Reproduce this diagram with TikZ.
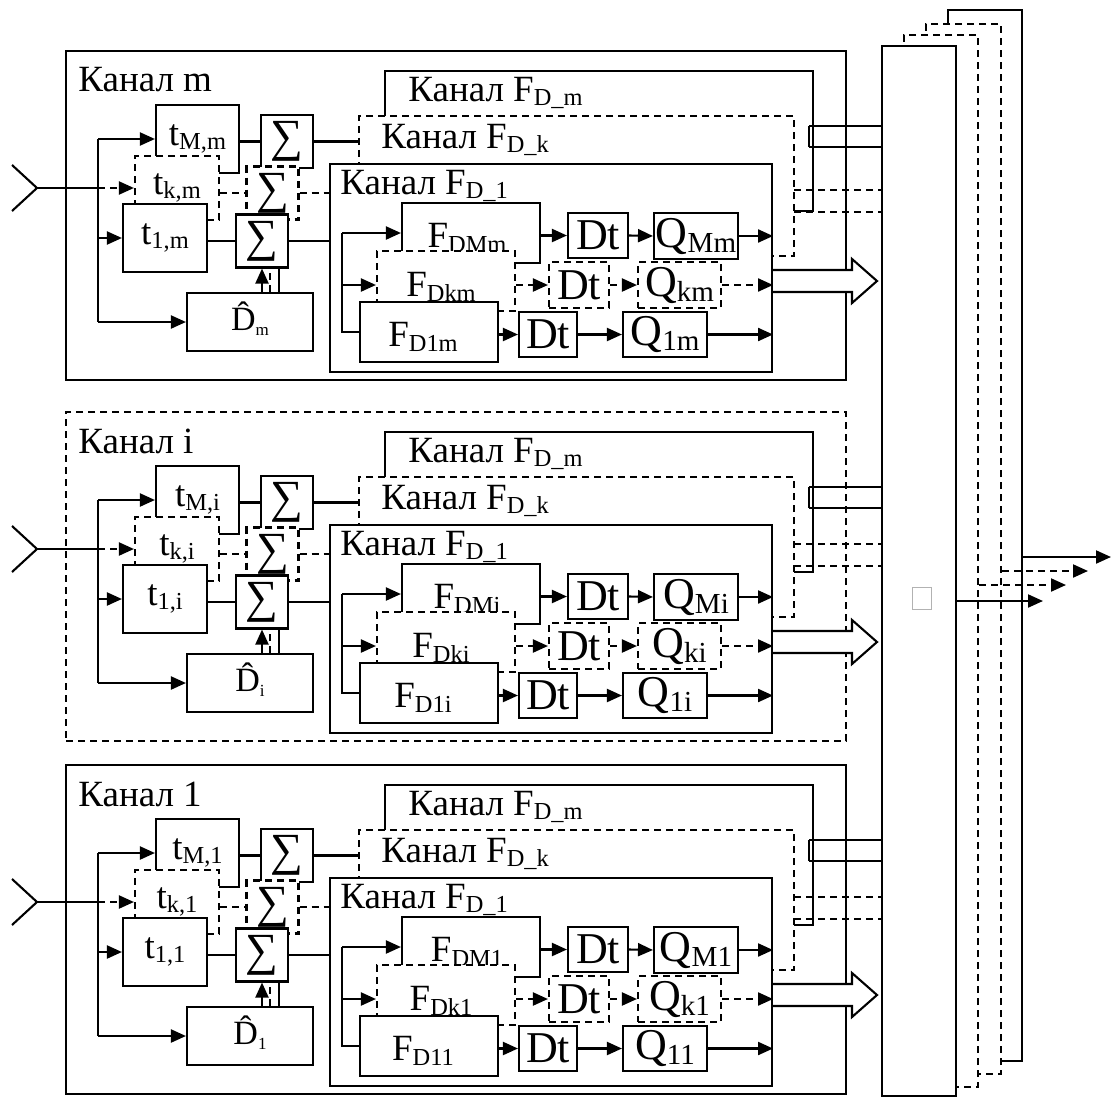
\documentclass[tikz,border=0pt]{standalone}
\usepackage{amsmath}
\usepackage{fontspec}
\setmainfont{Liberation Serif}
\usepackage{tikz}
\usetikzlibrary{arrows.meta,calc}
\newcommand{\lo}[1]{\raisebox{-0.12em}{\scalebox{0.66}{#1}}}
\newcommand{\Dhat}[1]{\ooalign{D\cr\hidewidth\raisebox{0.16em}{ˆ}\hidewidth\cr}\raisebox{-0.15em}{\scalebox{0.5}{#1}}}

% one channel: #1 name prefix, #2 y offset, #3 index, #4 frame style, #5 shift of the dashed outputs
\newcommand{\kanal}[5]{%
\begin{scope}[shift={(0,#2)}]
  \node[draw,#4,minimum width=780pt,minimum height=329pt] (#1box) at (456,215.5) {};
  \node[lbl,anchor=west] (#1name) at (74,80) {Канал #3};
  % delays t
  \node[blk,tfont,minimum width=83pt,minimum height=68pt] (#1tM) at (197.5,139) {t\lo{M,#3}};
  \node[blk,tfont,dashed,minimum width=84pt,minimum height=64pt] (#1tK) at (177,188) {t\lo{k,#3}};
  \node[blk,tfont,minimum width=84pt,minimum height=68pt] (#1tA) at (165,238) {t\lo{1,#3}};
  % adders
  \node[sumbox] (#1sM) at (287,141.5) {∑};
  \node[sumbox,dashed] (#1sK) at (272.5,193) {∑};
  \node[sumbox] (#1sA) at (262,241) {∑};
  \node[blk,dfont,minimum width=126pt,minimum height=58pt] (#1d) at (250,322) {\Dhat{#3}};
  % sub-channels F_D
  \node[blk,minimum width=428pt,minimum height=140pt] (#1fm) at (599,141) {};
  \node[lbl,anchor=west] (#1fmname) at (404,93) {Канал F\lo{D\_m}};
  \node[blk,dashed,minimum width=435pt,minimum height=140pt] (#1fk) at (576.5,186) {};
  \node[lbl,anchor=west] (#1fkname) at (377,140) {Канал F\lo{D\_k}};
  \node[blk,minimum width=442pt,minimum height=208pt] (#1fa) at (551,268) {};
  \node[lbl,anchor=west] (#1faname) at (336,186) {Канал F\lo{D\_1}};
  \node[blk,minimum width=138pt,minimum height=60pt,label={[lbl,yshift=-5pt,xshift=-4pt]center:F\lo{DM#3}}] (#1FM) at (471,233) {};
  \node[blk,dashed,minimum width=138pt,minimum height=60pt,label={[lbl,yshift=-6pt,xshift=-5pt]center:F\lo{Dk#3}}] (#1FK) at (446,281) {};
  \node[blk,minimum width=138pt,minimum height=60pt,label={[lbl,yshift=-5pt,xshift=-6pt]center:F\lo{D1#3}}] (#1FA) at (429,332) {};
  \node[blk,qfont,minimum width=60pt,minimum height=45pt] (#1dtM) at (598,235.5) {Dt};
  \node[blk,qfont,minimum width=84pt,minimum height=46pt] (#1qM) at (696,236) {Q\lo{M#3}};
  \node[blk,qfont,dashed,minimum width=60pt,minimum height=46pt] (#1dtK) at (579,285) {Dt};
  \node[blk,qfont,dashed,minimum width=83pt,minimum height=46pt] (#1qK) at (679.5,285) {Q\lo{k#3}};
  \node[blk,qfont,minimum width=58pt,minimum height=45pt] (#1dtA) at (548,334.5) {Dt};
  \node[blk,qfont,minimum width=84pt,minimum height=45pt] (#1qA) at (665,334.5) {Q\lo{1#3}};
  % input and bus
  \coordinate (#1ant) at (37,188);
  \coordinate (#1bus) at (98,139);
  \coordinate (#1fbus) at (342,233);
  \draw (12,165) -- (#1ant) -- (12,211);
  \draw (#1ant) -- (#1bus |- #1tK.west);
  \draw[dashed,->] (#1bus |- #1tK.west) -- (#1tK.west);
  \draw (#1bus |- #1tM.west) -- (#1bus |- #1d.west);
  \draw[->] (#1bus |- #1tM.west) -- (#1tM.west);
  \draw[->] (#1bus |- #1tA.west) -- (#1tA.west);
  \draw[->] (#1bus |- #1d.west) -- (#1d.west);
  \draw (#1tM.east |- #1sM.west) -- (#1sM.west);
  \draw (#1sM.east) -- (#1fk.west |- #1sM.east);
  \draw[dashed] (#1tK.east |- #1sK.west) -- (#1sK.west);
  \draw[dashed] (#1sK.east) -- (#1fa.west |- #1sK.east);
  \draw (#1tA.east |- #1sA.west) -- (#1sA.west);
  \draw (#1sA.east) -- (#1fa.west |- #1sA.east);
  \draw[->] (#1sA.south |- #1d.north) -- (#1sA.south);
  \draw[dashed] ($(#1sA.south |- #1d.north)+(8,0)$) -- ($(#1sA.south)+(8,0)$);
  \draw ($(#1sA.south |- #1d.north)+(17,0)$) -- ($(#1sA.south)+(17,0)$);
  % filter rows
  \draw (#1fbus |- #1FM.west) -- (#1fbus |- #1FA.west) -- (#1FA.west);
  \draw[->] (#1fbus |- #1FM.west) -- (#1FM.west);
  \draw[->] (#1fbus |- #1dtK.west) -- (#1FK.west |- #1dtK.west);
  \draw[->] (#1FM.east |- #1dtM.west) -- (#1dtM.west);
  \draw[->] (#1dtM.east) -- (#1qM.west);
  \draw[->] (#1qM.east) -- (#1fa.east |- #1qM.east);
  \draw[dashed,->] (#1FK.east |- #1dtK.west) -- (#1dtK.west);
  \draw[dashed,->] (#1dtK.east) -- (#1qK.west);
  \draw[dashed,->] (#1qK.east) -- (#1fa.east |- #1qK.east);
  \draw[->] (#1FA.east |- #1dtA.west) -- (#1dtA.west);
  \draw[->] (#1dtA.east) -- (#1qA.west);
  \draw[->] (#1qA.east) -- (#1fa.east |- #1qA.east);
  % outputs to the multiplexer
  \coordinate (#1bu) at (809,126);
  \coordinate (#1bl) at (809,147);
  \coordinate (#1ou) at (794,{190+#5});
  \coordinate (#1ol) at (794,{212+#5});
  \draw (#1bu) -- (#1bu -| mux.west);
  \draw (#1bl) -- (#1bl -| mux.west);
  \draw (#1bu) -- (#1bl);
  \draw[dashed] (#1ou) -- (#1ou -| mux.west);
  \draw[dashed] (#1ol) -- (#1ol -| mux.west);
  \draw[fill=white] (773,270) -- (852,270) -- (852,259) -- (877,281) -- (852,303) -- (852,292) -- (773,292);
\end{scope}}

\begin{document}
\begin{tikzpicture}[x=1pt,y=-1pt,line width=2.1pt,>={Triangle[length=15pt,width=13pt]},
    dashed/.style={dash pattern=on 7pt off 5pt},
    blk/.style={draw,fill=white,inner sep=0pt},
    lbl/.style={font=\fontsize{37}{43}\selectfont},
    tfont/.style={font=\fontsize{37}{43}\selectfont},
    dfont/.style={font=\fontsize{34}{40}\selectfont},
    qfont/.style={font=\fontsize{44}{50}\selectfont},
    sumbox/.style={blk,minimum width=52pt,minimum height=53pt,font=\fontsize{46}{52}\selectfont}]
  \useasboundingbox (0,0) rectangle (1113,1097);
  % multiplexer and its copies
  \node[blk,minimum width=74pt,minimum height=1051pt] (mux3) at (985,535.5) {};
  \node[blk,dashed,minimum width=75pt,minimum height=1050pt] (mux2) at (963.5,549) {};
  \node[blk,dashed,minimum width=74pt,minimum height=1052pt] (mux1) at (941,561) {};
  \node[blk,minimum width=74pt,minimum height=1050pt] (mux) at (919,571) {};
  \node[draw=gray!60,line width=0.8pt,inner sep=0pt,minimum width=19pt,minimum height=22pt] (mark) at (921.5,598) {};
  \coordinate (out0) at (1043,601);
  \coordinate (out1) at (1066,585);
  \coordinate (out2) at (1088,571);
  \coordinate (out3) at (1111,557);
  \draw[->] (mux.east |- out0) -- (out0);
  \draw[dashed,->] (mux1.east |- out1) -- (out1);
  \draw[dashed,->] (mux2.east |- out2) -- (out2);
  \draw[->] (mux3.east |- out3) -- (out3);
  % channels
  \kanal{m}{0}{m}{solid}{0}
  \kanal{i}{361}{i}{dashed}{-7}
  \kanal{a}{714}{1}{solid}{-7}
\end{tikzpicture}
\end{document}
